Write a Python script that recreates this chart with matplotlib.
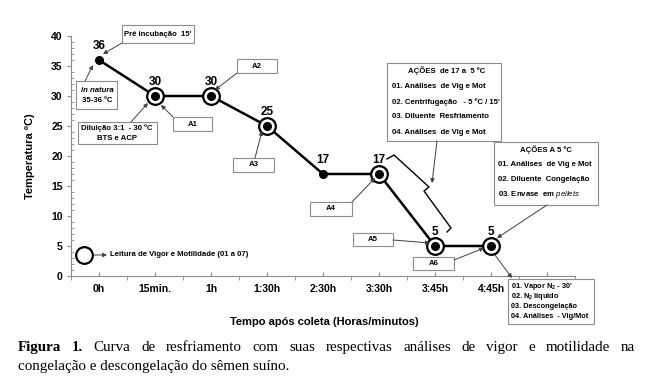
"""Curva de resfriamento do sêmen suíno (Figura 1)."""
import matplotlib
matplotlib.use("Agg")
import matplotlib.pyplot as plt
from matplotlib.lines import Line2D
from matplotlib.patches import Rectangle, FancyArrowPatch

plt.rcParams["font.family"] = ["Liberation Sans", "DejaVu Sans"]
plt.rcParams["mathtext.fontset"] = "custom"
plt.rcParams["mathtext.rm"] = "Liberation Sans:bold"
plt.rcParams["mathtext.it"] = "Liberation Sans:italic"
plt.rcParams["mathtext.bf"] = "Liberation Sans:bold"

# --- data ---
times = ["0h", "15min.", "1h", "1:30h", "2:30h", "3:30h", "3:45h", "4:45h", ""]
temps = [36, 30, 30, 25, 17, 17, 5, 5]
reading_idx = [1, 2, 3, 5, 6, 7]  # pontos com leitura de vigor/motilidade

acoes_17_5 = ["01. Análises  de Vig e Mot",
              "02. Centrifugação   - 5 ºC / 15'",
              "03. Diluente  Resfriamento",
              "04. Análises  de Vig e Mot"]
acoes_5 = ["01. Análises  de Vig e Mot",
           "02. Diluente  Congelação",
           r"03. Envase  em $\it{pellets}$"]
pos_5 = [r"01. Vapor N$_2$ - 30'",
         r"02. N$_2$ liquido",
         "03. Descongelação",
         "04. Análises  - Vig/Mot"]
caption1 = "Curva de resfriamento com suas respectivas análises de vigor e motilidade na"
caption2 = "congelação e descongelação do sêmen suíno."

W, H = 650, 385
GRAY = "#8c8c8c"
DARK = "#404040"

fig = plt.figure(figsize=(W / 100, H / 100), dpi=100)
ax = fig.add_axes([71 / W, 1 - 276 / H, 504 / W, 240 / H])


def P(x, y):
    return (x / W, 1 - y / H)


def box(x0, y0, x1, y1):
    fig.patches.append(Rectangle(P(x0, y1), (x1 - x0) / W, (y1 - y0) / H,
                                 transform=fig.transFigure, fc="white",
                                 ec=GRAY, lw=0.8, zorder=5))


def label(x, y, s, size=5.6, ha="center", **kw):
    kw.setdefault("fontweight", "bold")
    return fig.text(x / W, 1 - y / H, s, fontsize=size, ha=ha, va="center",
                    zorder=7, **kw)


def arrow(xy_from, xy_to):
    fig.add_artist(FancyArrowPatch(P(*xy_from), P(*xy_to),
                                   transform=fig.transFigure, arrowstyle="-|>",
                                   mutation_scale=6, lw=0.7, color=DARK,
                                   shrinkA=0, shrinkB=0, zorder=6))


# --- curve ---
x = list(range(len(temps)))
ax.plot(x, temps, color="black", lw=1.8, zorder=3)
ax.plot([x[i] for i in reading_idx], [temps[i] for i in reading_idx], "o",
        ms=12, mfc="white", mec="black", mew=1.6, zorder=4)
ax.plot(x, temps, "o", color="black", ms=5.5, zorder=5)
for xi, t in zip(x, temps):
    ax.text(xi, t + 2.4, str(t), ha="center", va="center", fontsize=8.5,
            fontweight="bold")

ax.set_xlim(-0.5, 8.5)
ax.set_ylim(0, 40)
ax.set_xticks(range(len(times)))
ax.set_xticklabels(times, fontsize=7.5, fontweight="bold")
ax.set_xticks([k - 0.5 for k in range(len(times) + 1)], minor=True)
ax.set_yticks(range(0, 41, 5))
ax.set_yticklabels([str(v) for v in range(0, 41, 5)], fontsize=7.5,
                   fontweight="bold")
ax.set_yticks(range(0, 41), minor=True)
ax.tick_params(axis="x", which="major", direction="in", length=3, pad=6,
               color=GRAY)
ax.tick_params(axis="x", which="minor", direction="out", length=3, color=GRAY)
ax.tick_params(axis="y", which="major", direction="out", length=3, pad=3,
               color=GRAY)
ax.tick_params(axis="y", which="minor", direction="in", length=2, color=GRAY)
for s in ("top", "right"):
    ax.spines[s].set_visible(False)
for s in ("left", "bottom"):
    ax.spines[s].set_color(GRAY)
    ax.spines[s].set_linewidth(0.8)
ax.patch.set_alpha(0)

label(30, 156, "Temperatura ºC)", size=8, rotation=90)
label(324, 322, "Tempo após coleta (Horas/minutos)", size=8)

# --- callouts ---
box(122, 25, 194, 43)
label(158, 34, "Pré incubação  15'")
arrow((122, 43), (103, 54))

box(76, 81, 117, 109)
label(97, 90, "in natura", fontstyle="italic")
label(97, 101, "35-36 ºC")
arrow((85, 81), (93, 65))

box(78, 122, 157, 144)
label(117, 128.5, "Diluição 3:1  - 30 ºC")
label(117, 138, "BTS e ACP")
arrow((131, 122), (148, 103))

small = [("A1", (173, 117, 212, 131), (173, 117), (161, 105)),
         ("A2", (237, 59, 277, 73), (237, 73), (215, 90)),
         ("A3", (233, 158, 274, 172), (255, 158), (262, 131)),
         ("A4", (310, 202, 352, 216), (352, 202), (375, 178)),
         ("A5", (353, 233, 393, 246), (393, 240), (430, 243)),
         ("A6", (413, 257, 454, 270), (454, 260), (484, 248))]
for name, (x0, y0, x1, y1), a, b in small:
    box(x0, y0, x1, y1)
    label((x0 + x1) / 2, (y0 + y1) / 2, name)
    arrow(a, b)

# bracket over the 17 -> 5 descent
bx = [387, 394, 429, 424, 451, 447]
by = [159, 155, 187, 191, 228, 232]
fig.add_artist(Line2D([v / W for v in bx], [1 - v / H for v in by],
                      transform=fig.transFigure, color="black", lw=1.0))

box(387, 63, 501, 141)
t1 = label(447, 71, "AÇÕES  de 17 a  5 ºC")
for k, s in enumerate(acoes_17_5):
    label(392, 87 + 15 * k, s, ha="left")
arrow((437, 141), (432, 183))

box(494, 142, 598, 205)
t2 = label(546, 150, "AÇÕES A 5 ºC")
for k, s in enumerate(acoes_5):
    label(498, 165 + 15 * k, s, ha="left")
arrow((547, 205), (497, 238))

box(508, 279, 594, 324)
for k, s in enumerate(pos_5):
    label(511, 287 + 9.8 * k, s, size=5.3, ha="left")
arrow((495, 255), (512, 278))

# legend for the rings
fig.add_artist(Line2D([84 / W], [1 - 255 / H], marker="o", ms=12, mfc="none",
                      mec="black", mew=1.6, transform=fig.transFigure))
arrow((94, 255), (107, 255))
label(110, 255, "Leitura de Vigor e Motilidade (01 a 07)", ha="left")

# --- caption (justified first line) ---
fig.canvas.draw()
rend = fig.canvas.get_renderer()

for t in (t1, t2):
    bb = t.get_window_extent(rend)
    fig.add_artist(Line2D([bb.x0 / W, bb.x1 / W], [(bb.y0 - 0.5) / H] * 2,
                          transform=fig.transFigure, color="black", lw=0.6))

cap_kw = dict(fontsize=10.8, family="Liberation Serif", va="baseline")
words = [("Figura", "bold"), ("1.", "bold")] + [(w, "normal") for w in caption1.split()]
widths = []
for w, fw in words:
    tmp = fig.text(0, 0, w, fontweight=fw, **cap_kw)
    widths.append(tmp.get_window_extent(rend).width)
    tmp.remove()
gap = (635 - 18 - sum(widths)) / (len(words) - 1)
xpos = 18
for (w, fw), wd in zip(words, widths):
    fig.text(xpos / W, 1 - 351 / H, w, fontweight=fw, **cap_kw)
    xpos += wd + gap
fig.text(18 / W, 1 - 370 / H, caption2, **cap_kw)

fig.savefig("out.png", dpi=100)
